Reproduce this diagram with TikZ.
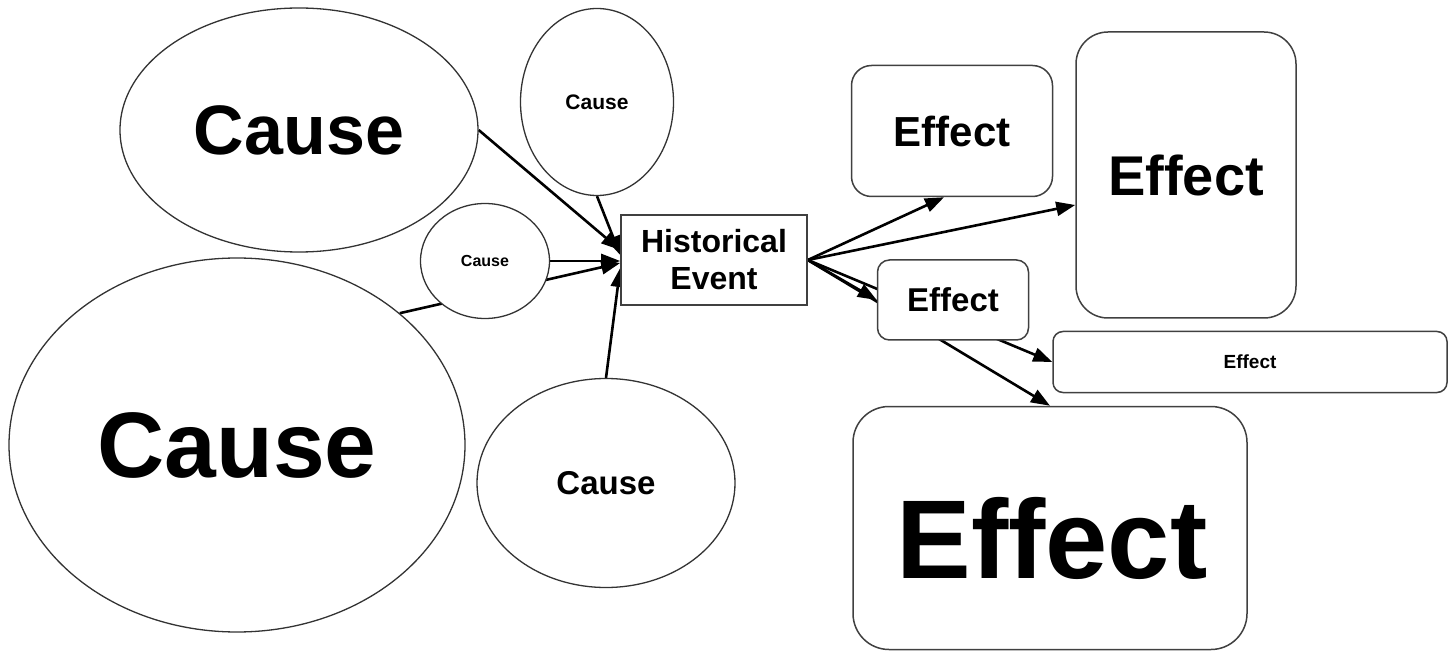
\documentclass[tikz,border=0pt]{standalone}
\usepackage{fontspec}
\setmainfont{Liberation Sans}
\usetikzlibrary{shapes.geometric,arrows.meta,backgrounds}
\newcommand{\capfont}[2]{\bfseries\fontsize{#1}{#2}\selectfont}

\begin{document}
\begin{tikzpicture}[x=1pt, y=-1pt,
    cause/.style={ellipse, draw=black!80, line width=1.3pt, fill=white, inner sep=0pt},
    effect/.style={rectangle, rounded corners=#1, draw=black!75, line width=1.5pt, fill=white, inner sep=0pt},
    effect/.default=15pt,
    link/.style={line width=2.6pt, -{Triangle[length=19pt,width=14pt]}}]
    \useasboundingbox (0,0) rectangle (1454,652);
    % causes on the left, all pointing at the event
    \node[cause, minimum width=358pt, minimum height=244pt, font=\capfont{70}{80}] (causeA) at (299,130) {Cause};
    \node[cause, minimum width=153pt, minimum height=187pt, font=\capfont{21}{24}] (causeB) at (597,102) {Cause};
    \node[cause, minimum width=456pt, minimum height=374pt, font=\capfont{93}{100}] (causeD) at (237,445) {Cause};
    \node[cause, minimum width=129pt, minimum height=115pt, font=\capfont{16}{18}] (causeC) at (485,261) {Cause};
    \node[cause, minimum width=258pt, minimum height=209pt, font=\capfont{33}{38}] (causeE) at (606,483) {Cause};
    \node[rectangle, draw=black!75, line width=1.6pt, fill=white, minimum width=186pt, minimum height=90pt,
          align=center, inner sep=0pt, font=\capfont{32}{37}] (event) at (714,260) {Historical\\Event};
    % effects on the right
    \node[effect=20pt, minimum width=201pt, minimum height=131pt, font=\capfont{42}{48}] (effA) at (952,131) {Effect};
    \node[effect=32pt, minimum width=220pt, minimum height=286pt, font=\capfont{56}{64}] (effB) at (1186,175) {Effect};
    \node[effect=12pt, minimum width=151pt, minimum height=80pt, font=\capfont{33}{38}] (effC) at (953,300) {Effect};
    \node[effect=10pt, minimum width=394pt, minimum height=61pt, font=\capfont{19}{22}] (effD) at (1250,362) {Effect};
    \node[effect=36pt, minimum width=394pt, minimum height=243pt] (effE) at (1050,528) {};
    \node[font=\capfont{112}{120}] (effEtext) at (1052,538) {Effect};
    \begin{scope}[on background layer]
      \draw[link] (causeA.east) -- ([yshift=10pt]event.west);
      \draw[link] (causeB.south) -- ([yshift=5pt]event.west);
      \draw[link] (causeC.east) -- (causeC.east -| event.west);
      \draw[link] (causeD.39) -- ([yshift=-3pt]event.west);
      \draw[link] (causeE.north) -- ([yshift=-8pt]event.west);
      \draw[link] (event.east) -- ([xshift=-8pt]effA.south);
      \draw[link] (event.east) -- ([yshift=-30pt]effB.west);
      \draw[link] (event.east) -- (effC.west);
      \draw[link] (event.east) -- (effD.west);
      \draw[link] (event.east) -- (effE.north);
    \end{scope}
\end{tikzpicture}
\end{document}
